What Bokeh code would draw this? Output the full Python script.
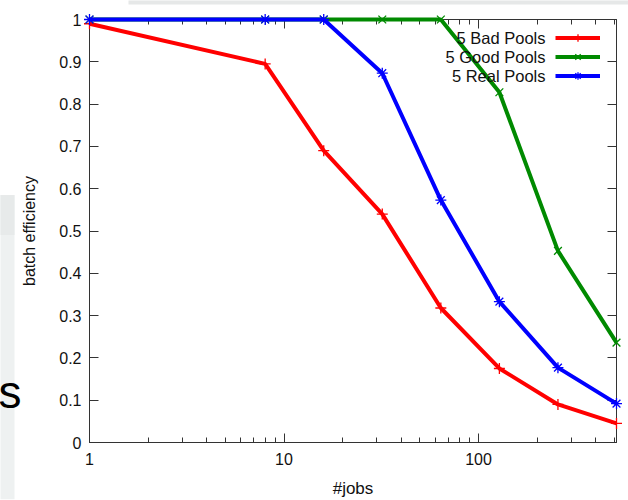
import math
from bokeh.plotting import figure
from bokeh.models import (Range1d, LinearAxis, LogAxis, FixedTicker, Legend, LegendItem, Label)
from bokeh.core.properties import value
from bokeh.embed import file_html
from bokeh.resources import INLINE

# batch efficiency vs number of jobs, for three pool configurations
jobs = [1, 8, 16, 32, 64, 128, 256, 512]
bad_pools = [0.99, 0.895, 0.69, 0.54, 0.318, 0.175, 0.09, 0.045]
good_pools = [1, 1, 1, 1, 1, 0.828, 0.453, 0.236]
real_pools = [1, 1, 1, 0.873, 0.573, 0.333, 0.177, 0.092]

series_names = ["5 Bad Pools", "5 Good Pools", "5 Real Pools"]
series_colors = ["#ff0000", "#008a00", "#0000ff"]
series_markers = ["cross", "x", "asterisk"]

x_major = [1, 10, 100]
x_minor = [2, 3, 4, 5, 6, 7, 8, 9, 20, 30, 40, 50, 60, 70, 80, 90, 200, 300, 400, 500]
y_major = [0, 0.1, 0.2, 0.3, 0.4, 0.5, 0.6, 0.7, 0.8, 0.9, 1]
y_labels = ["0", "0.1", "0.2", "0.3", "0.4", "0.5", "0.6", "0.7", "0.8", "0.9", "1"]

FONT = "Liberation Sans"
AXIS_COLOR = "#333333"
TEXT_COLOR = "#111111"

W, H = 628, 500
LEFT, RIGHT, TOP, BOTTOM = 89, 12, 19, 57
X0, X1, Y0, Y1 = 1, 512, 0, 1

p = figure(width=W, height=H, x_axis_type="log",
           x_range=Range1d(X0, X1), y_range=Range1d(Y0, Y1),
           output_backend="svg", toolbar_location=None,
           min_border_left=LEFT, min_border_right=RIGHT,
           min_border_top=TOP, min_border_bottom=BOTTOM,
           background_fill_color="white", border_fill_color="white",
           outline_line_color=AXIS_COLOR, outline_line_width=1)
p.grid.visible = False
p.xaxis.visible = False
p.yaxis.visible = False

def style_axis(ax, show_labels):
    ax.axis_line_color = AXIS_COLOR
    ax.major_tick_line_color = AXIS_COLOR
    ax.minor_tick_line_color = AXIS_COLOR
    ax.major_tick_in = 9
    ax.major_tick_out = 0
    ax.minor_tick_in = 5
    ax.minor_tick_out = 0
    ax.major_label_text_font = FONT
    ax.major_label_text_font_size = "16px"
    ax.major_label_text_color = TEXT_COLOR
    if not show_labels:
        ax.major_label_text_alpha = 0

x_ticker = FixedTicker(ticks=x_major, minor_ticks=x_minor)
y_ticker = FixedTicker(ticks=y_major, minor_ticks=[])

xb = LogAxis(ticker=x_ticker, axis_label="#jobs",
             major_label_overrides={v: str(v) for v in x_major})
style_axis(xb, True)
xb.major_label_standoff = 10
xb.axis_label_text_font = FONT
xb.axis_label_text_font_size = "17px"
xb.axis_label_text_font_style = "normal"
xb.axis_label_text_color = TEXT_COLOR
xb.axis_label_standoff = 11
p.add_layout(xb, "below")

xt = LogAxis(ticker=x_ticker, major_label_overrides={v: "" for v in x_major})
style_axis(xt, False)
p.add_layout(xt, "above")

yl = LinearAxis(ticker=y_ticker, axis_label="batch efficiency",
                major_label_overrides=dict(zip(y_major, y_labels)))
style_axis(yl, True)
yl.major_label_standoff = 8
yl.axis_label_text_font = FONT
yl.axis_label_text_font_size = "16px"
yl.axis_label_text_font_style = "normal"
yl.axis_label_text_color = TEXT_COLOR
yl.axis_label_standoff = 18
p.add_layout(yl, "left")

yr = LinearAxis(ticker=y_ticker, major_label_overrides={v: "" for v in y_major})
style_axis(yr, False)
p.add_layout(yr, "right")

# series: thick line plus a thin point symbol at each measurement
series = [bad_pools, good_pools, real_pools]
items = []
for vals, name, color, marker in zip(series, series_names, series_colors, series_markers):
    ln = p.line(jobs, vals, line_color=color, line_width=4, level="annotation")
    mk = p.scatter(jobs, vals, marker=marker, size=11, line_color=color,
                   line_width=1.3, level="annotation")
    items.append(LegendItem(label=" ", renderers=[ln, mk]))

# key: samples from the legend, names as right-aligned labels to their left
legend = Legend(items=items, location=(466, 357), orientation="vertical",
                glyph_width=45, glyph_height=19, label_width=0, label_height=19,
                label_standoff=0, padding=0, margin=0, spacing=0,
                border_line_alpha=0, background_fill_alpha=0,
                label_text_font_size="1px")
p.add_layout(legend)

for i, name in enumerate(series_names):
    p.add_layout(Label(x=456, y=405 - 19 * i, x_units="screen", y_units="screen",
                       text=name, text_align="right", text_baseline="middle",
                       text_font=FONT, text_font_size="16.5px", text_color=TEXT_COLOR))

# surrounding slide decoration, placed by canvas pixel
decades = math.log10(X1 / X0)
plot_w = W - LEFT - RIGHT
plot_h = H - TOP - BOTTOM

def px_x(px):
    return X0 * 10 ** ((px - LEFT) / plot_w * decades)

def px_y(py):
    return Y0 + (H - BOTTOM - py) / plot_h * (Y1 - Y0)

p.quad(left=[px_x(0)], right=[px_x(14)], bottom=[px_y(H)], top=[px_y(195)],
       fill_color="#eef1f1", line_alpha=0, level="annotation")
p.quad(left=[px_x(0)], right=[px_x(14)], bottom=[px_y(235)], top=[px_y(195)],
       fill_color="#e7eaea", line_alpha=0, level="annotation")
p.quad(left=[px_x(128)], right=[px_x(W)], bottom=[px_y(4)], top=[px_y(0)],
       fill_color="#e6e8e8", line_alpha=0, level="annotation")
p.text(x=[px_x(21)], y=[px_y(392)], text=["s"], text_align="right",
       text_baseline="middle", text_font=value(FONT), text_font_size="46px",
       text_color="#000000", level="annotation")

open("out.html", "w").write(file_html(p, INLINE))
